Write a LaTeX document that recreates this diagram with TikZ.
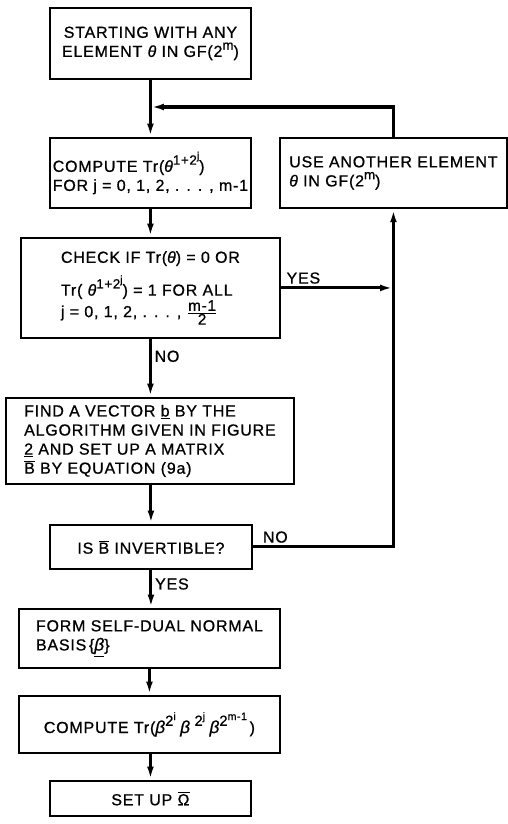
\documentclass[tikz,border=0pt]{standalone}
\usepackage{fontspec}
\setmainfont[LetterSpace=5,FakeBold=0.8]{Liberation Sans}
\usetikzlibrary{arrows.meta}
\newcommand{\supA}[1]{\raisebox{0.85ex}{\fontsize{10}{10}\selectfont #1}}
\newcommand{\supB}[1]{\raisebox{0.75ex}{\fontsize{8}{8}\selectfont #1}}
\newcommand{\thet}{{\itshape θ}}
\newcommand{\bet}{{\itshape\fontsize{13}{14}\selectfont β}}
\newcommand{\ovl}[1]{$\overline{\hbox{#1}}$}
\newcommand{\fracpart}[1]{\hbox{\fontsize{11.5}{12}\selectfont #1}}
\begin{document}
\begin{tikzpicture}[x=0.75pt,y=-0.75pt,
  bx/.style n args={4}{draw, line width=1.4pt, inner sep=0pt, anchor=north west,
    at={(#1,#2)}, minimum width={(#3-#1)*0.75pt}, minimum height={(#4-#2)*0.75pt},
    font=\fontsize{12}{14.3}\selectfont},
  flow/.style={line width=2.3pt, -{Latex[length=10pt,width=5pt]}},
  plain/.style={line width=2.3pt},
  lbl/.style={font=\fontsize{12}{14}\selectfont, inner sep=2pt}]
\useasboundingbox (0,0) rectangle (507,824);

\node[bx={49}{7}{250}{78}, align=center] (start)
  {STARTING WITH ANY\\ELEMENT \thet\ IN GF(2\supA{m})};
\node[bx={49}{137}{250}{207}, align=left] (comp)
  {COMPUTE Tr(\thet\supA{1+2\supB{j}})\\FOR j = 0, 1, 2, . . . , m-1};
\node[bx={279}{137}{506}{207}, align=left] (use)
  {USE ANOTHER ELEMENT\\\thet\ IN GF(2\supA{m})};
\node[bx={20}{237}{279}{337}, align=left] (check)
  {CHECK IF Tr(\thet) = 0 OR\\[6pt]
   Tr( \thet\supA{1+2\supB{j}}) = 1 FOR ALL\\
   j = 0, 1, 2, . . . , $\frac{\fracpart{m-1}}{\fracpart{2}}$};
\node[bx={5}{397}{293}{483}, align=left] (find)
  {FIND A VECTOR \underline{b} BY THE\\ALGORITHM GIVEN IN FIGURE\\
   \underline{2} AND SET UP A MATRIX\\\ovl{B} BY EQUATION (9a)};
\node[bx={49}{524}{251}{568}, align=center] (isb)
  {IS \ovl{B} INVERTIBLE?};
\node[bx={18}{608}{279}{667}, align=left] (form)
  {FORM SELF-DUAL NORMAL\\BASIS\,\{\underline{\bet}\}};
\node[bx={18}{695}{279}{752}, align=left] (ctr)
  {COMPUTE Tr(\bet\supA{\fontsize{11}{11}\selectfont 2\supB{i}}\;\bet\;\supA{\fontsize{11}{11}\selectfont 2\supB{j}}\;\bet\supA{\fontsize{11}{11}\selectfont 2\supB{m-1}}\,)};
\node[bx={49}{780}{250}{815}, align=center] (setup)
  {SET UP \ovl{Ω}};

\coordinate (jn) at (start.south |- 0,107);

\draw[plain] (start.south) -- (jn);
\draw[flow] (jn) -- (jn |- comp.north);
\draw[flow] (use.north) |- (jn);
\draw[flow] (comp.south) -- (comp.south |- check.north);
\draw[flow] (check.east) -- node[lbl, pos=0.2, above] {YES} (use.south |- check.east);
\draw[flow] (check.south) -- node[lbl, pos=0.3, right] {NO} (check.south |- find.north);
\draw[flow] (find.south -| isb.north) -- (isb.north);
\draw[flow] (isb.east) -| node[lbl, pos=0.08, above] {NO} (use.south);
\draw[flow] (isb.south) -- node[lbl, pos=0.37, right] {YES} (isb.south |- form.north);
\draw[flow] (form.south) -- (form.south |- ctr.north);
\draw[flow] (ctr.south -| setup.north) -- (setup.north);
\end{tikzpicture}
\end{document}
